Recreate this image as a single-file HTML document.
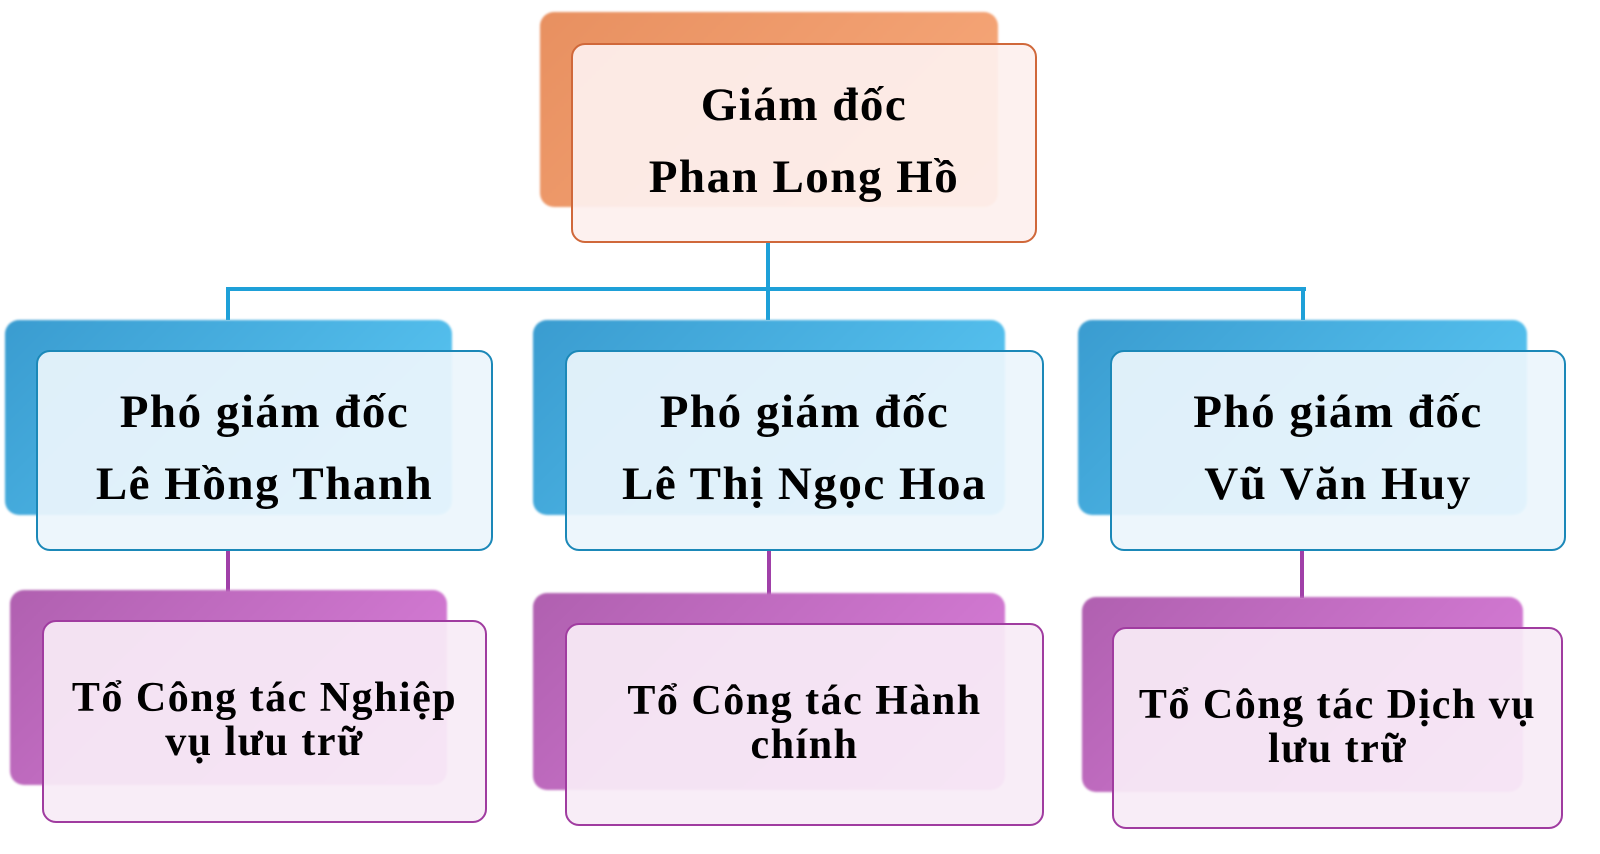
<!DOCTYPE html>
<html><head><meta charset="utf-8"><style>
body{margin:0;width:1600px;height:854px;background:#fff;position:relative;overflow:hidden;font-family:"Liberation Serif",serif;}
.b{position:absolute;border-radius:14px;}
.back{filter:blur(1px);}
.t{position:absolute;font-weight:bold;text-align:center;color:#000;white-space:nowrap;letter-spacing:1.5px;}
.l{position:absolute;}
</style></head><body>
<!-- connectors -->
<div class="l" style="left:766px;top:242px;width:4px;height:78px;background:#1ea0d8"></div>
<div class="l" style="left:226px;top:287px;width:1080px;height:4px;background:#1ea0d8"></div>
<div class="l" style="left:226px;top:287px;width:4px;height:33px;background:#1ea0d8"></div>
<div class="l" style="left:1301px;top:287px;width:4px;height:33px;background:#1ea0d8"></div>
<div class="l" style="left:226px;top:550px;width:4px;height:42px;background:#a040a8"></div>
<div class="l" style="left:767px;top:550px;width:4px;height:45px;background:#a040a8"></div>
<div class="l" style="left:1300px;top:550px;width:4px;height:48px;background:#a040a8"></div>

<!-- top -->
<div class="b back" style="left:540px;top:12px;width:458px;height:195px;background:linear-gradient(135deg,#e89060,#f8aa7c);"></div>
<div class="b" style="left:571px;top:43px;width:462px;height:196px;border:2px solid #d0683a;background:rgba(253,240,238,0.93);"></div>
<div class="t" style="left:571px;width:466px;top:69px;font-size:47px;line-height:72px;">Giám đốc<br>Phan Long Hồ</div>

<!-- row2 -->
<div class="b back" style="left:5px;top:320px;width:447px;height:195px;background:linear-gradient(135deg,#3a9cd0,#5ccaf6);"></div>
<div class="b" style="left:36px;top:350px;width:453px;height:197px;border:2px solid #1b88b8;background:rgba(236,245,252,0.93);"></div>
<div class="t" style="left:36px;width:457px;top:376px;font-size:47px;line-height:72px;">Phó giám đốc<br>Lê Hồng Thanh</div>

<div class="b back" style="left:533px;top:320px;width:472px;height:195px;background:linear-gradient(135deg,#3a9cd0,#5ccaf6);"></div>
<div class="b" style="left:565px;top:350px;width:475px;height:197px;border:2px solid #1b88b8;background:rgba(236,245,252,0.93);"></div>
<div class="t" style="left:565px;width:479px;top:376px;font-size:47px;line-height:72px;">Phó giám đốc<br>Lê Thị Ngọc Hoa</div>

<div class="b back" style="left:1078px;top:320px;width:449px;height:195px;background:linear-gradient(135deg,#3a9cd0,#5ccaf6);"></div>
<div class="b" style="left:1110px;top:350px;width:452px;height:197px;border:2px solid #1b88b8;background:rgba(236,245,252,0.93);"></div>
<div class="t" style="left:1110px;width:456px;top:376px;font-size:47px;line-height:72px;">Phó giám đốc<br>Vũ Văn Huy</div>

<!-- row3 -->
<div class="b back" style="left:10px;top:590px;width:437px;height:195px;background:linear-gradient(135deg,#b060b0,#dc80dc);"></div>
<div class="b" style="left:42px;top:620px;width:441px;height:199px;border:2px solid #a03ca0;background:rgba(247,236,246,0.93);"></div>
<div class="t" style="left:42px;width:445px;top:676px;font-size:42px;line-height:44px;">Tổ Công tác Nghiệp<br>vụ lưu trữ</div>

<div class="b back" style="left:533px;top:593px;width:472px;height:197px;background:linear-gradient(135deg,#b060b0,#dc80dc);"></div>
<div class="b" style="left:565px;top:623px;width:475px;height:199px;border:2px solid #a03ca0;background:rgba(247,236,246,0.93);"></div>
<div class="t" style="left:565px;width:479px;top:679px;font-size:42px;line-height:44px;">Tổ Công tác Hành<br>chính</div>

<div class="b back" style="left:1082px;top:597px;width:441px;height:195px;background:linear-gradient(135deg,#b060b0,#dc80dc);"></div>
<div class="b" style="left:1112px;top:627px;width:447px;height:198px;border:2px solid #a03ca0;background:rgba(247,236,246,0.93);"></div>
<div class="t" style="left:1112px;width:451px;top:683px;font-size:42px;line-height:44px;">Tổ Công tác Dịch vụ<br>lưu trữ</div>
</body></html>
